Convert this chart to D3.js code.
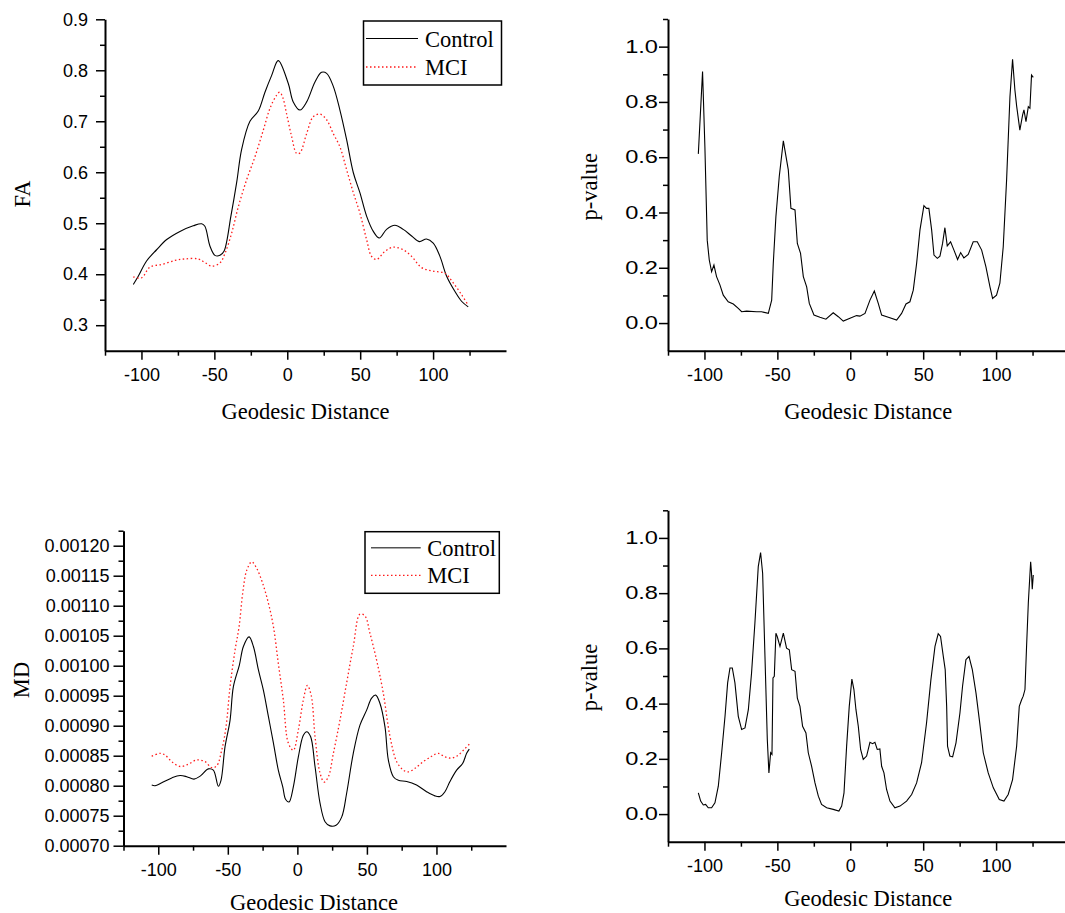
<!DOCTYPE html>
<html><head><meta charset="utf-8">
<script src="https://cdn.jsdelivr.net/npm/d3@7"></script>
<style>body{margin:0;background:#fff} svg{display:block}</style>
</head><body>
<svg id="c" width="1065" height="913"></svg>
<script>
// ---------------- DATA ----------------
const seriesNames = ["Control", "MCI"];
const xTitle = "Geodesic Distance";
const xMajorTicks = [-100, -50, 0, 50, 100];
const xMinorTicks = [-125, -75, -25, 25, 75, 125];
const faMajorTicks = [0.3, 0.4, 0.5, 0.6, 0.7, 0.8, 0.9];
const faMinorTicks = [0.35, 0.45, 0.55, 0.65, 0.75, 0.85];
const pMajorTicks = [0.0, 0.2, 0.4, 0.6, 0.8, 1.0];
const pMinorTicks = [0.1, 0.3, 0.5, 0.7, 0.9, 1.1];
const mdMajorTicks = [0.00070, 0.00075, 0.00080, 0.00085, 0.00090, 0.00095, 0.00100, 0.00105, 0.00110, 0.00115, 0.00120];
const mdMinorTicks = [0.000725, 0.000775, 0.000825, 0.000875, 0.000925, 0.000975, 0.001025, 0.001075, 0.001125, 0.001175, 0.001225];

const faControl = [[-105.6,0.380],[-102.2,0.396],[-96.5,0.426],[-89.6,0.448],[-82.7,0.468],[-73.6,0.484],[-64.5,0.495],[-58.7,0.499],[-56.5,0.494],[-53.0,0.455],[-49.6,0.437],[-46.2,0.437],[-43.4,0.445],[-38.6,0.515],[-34.7,0.580],[-31.3,0.645],[-25.6,0.700],[-19.9,0.720],[-15.3,0.757],[-10.7,0.790],[-6.2,0.819],[0.7,0.774],[4.1,0.738],[8.7,0.722],[13.3,0.738],[19.0,0.777],[23.5,0.796],[27.0,0.794],[31.5,0.769],[36.1,0.722],[40.7,0.664],[45.3,0.599],[49.8,0.560],[54.4,0.514],[59.0,0.484],[63.1,0.471],[68.1,0.488],[73.8,0.496],[79.5,0.488],[85.3,0.475],[90.5,0.464],[95.5,0.469],[100.1,0.461],[104.7,0.435],[109.3,0.396],[115.0,0.366],[119.5,0.347],[124.1,0.336]];
const faMCI = [[-105.6,0.395],[-99.9,0.393],[-94.2,0.414],[-86.2,0.419],[-77.0,0.427],[-70.2,0.430],[-61.0,0.430],[-56.5,0.423],[-51.9,0.416],[-46.2,0.422],[-42.7,0.441],[-38.2,0.480],[-33.6,0.532],[-27.9,0.585],[-22.2,0.630],[-16.5,0.682],[-11.9,0.725],[-7.6,0.750],[-5.2,0.757],[-3.0,0.746],[-0.5,0.715],[3.0,0.670],[6.4,0.637],[8.7,0.638],[13.3,0.676],[17.8,0.709],[22.4,0.714],[27.0,0.703],[31.5,0.676],[36.1,0.650],[40.7,0.605],[45.3,0.560],[49.8,0.520],[54.4,0.468],[57.8,0.435],[61.3,0.429],[67.0,0.445],[72.7,0.453],[79.5,0.448],[85.3,0.435],[92.1,0.413],[100.1,0.406],[108.0,0.402],[113.8,0.383],[119.5,0.360],[124.1,0.339]];

const faPValue = [[-104.2,0.612],[-101.3,0.910],[-99.7,0.638],[-98.1,0.300],[-96.7,0.228],[-95.1,0.186],[-93.5,0.210],[-91.7,0.168],[-89.4,0.138],[-87.1,0.101],[-83.7,0.077],[-80.2,0.069],[-76.8,0.053],[-74.5,0.041],[-71.1,0.043],[-64.2,0.041],[-60.8,0.041],[-56.2,0.035],[-53.9,0.083],[-52.8,0.216],[-51.0,0.385],[-48.7,0.530],[-45.9,0.659],[-42.5,0.554],[-40.7,0.415],[-37.9,0.409],[-36.3,0.288],[-34.1,0.252],[-32.2,0.168],[-29.9,0.131],[-28.1,0.071],[-24.9,0.029],[-20.8,0.021],[-16.7,0.014],[-11.7,0.037],[-8.2,0.023],[-4.8,0.007],[-0.2,0.017],[4.3,0.027],[6.6,0.025],[10.1,0.035],[13.5,0.083],[16.5,0.116],[19.2,0.071],[21.5,0.029],[26.1,0.021],[31.8,0.011],[35.2,0.035],[38.2,0.069],[40.9,0.077],[43.2,0.119],[45.5,0.216],[47.8,0.337],[50.5,0.425],[52.3,0.415],[53.9,0.415],[55.8,0.337],[57.4,0.246],[59.7,0.234],[61.5,0.242],[63.3,0.288],[64.9,0.345],[66.5,0.279],[68.8,0.294],[71.1,0.264],[73.6,0.230],[75.7,0.255],[77.9,0.236],[80.9,0.248],[84.3,0.294],[87.1,0.294],[90.1,0.264],[93.0,0.204],[95.8,0.131],[97.6,0.089],[100.3,0.101],[102.6,0.144],[104.9,0.276],[107.2,0.517],[109.5,0.819],[111.3,0.954],[112.9,0.843],[114.1,0.785],[116.3,0.698],[118.2,0.753],[119.1,0.771],[120.5,0.729],[122.1,0.783],[123.2,0.777],[124.3,0.897],[125.5,0.889]];

const mdControl = [[-104.7,0.000801],[-102.3,0.000800],[-97.5,0.000805],[-90.3,0.000813],[-84.3,0.000817],[-79.5,0.000815],[-74.3,0.000811],[-69.9,0.000816],[-64.0,0.000828],[-60.4,0.000826],[-56.8,0.000799],[-54.9,0.000809],[-52.0,0.000865],[-48.4,0.000909],[-46.0,0.000965],[-41.7,0.001001],[-38.8,0.001032],[-34.7,0.001048],[-31.6,0.001032],[-28.0,0.000993],[-24.4,0.000959],[-20.8,0.000915],[-17.2,0.000871],[-13.7,0.000826],[-10.5,0.000798],[-8.4,0.000777],[-6.0,0.000773],[-2.9,0.000798],[0.7,0.000848],[4.3,0.000884],[6.7,0.000890],[9.5,0.000882],[12.7,0.000832],[16.3,0.000771],[19.9,0.000740],[23.5,0.000733],[27.8,0.000734],[31.9,0.000748],[35.4,0.000787],[40.2,0.000854],[45.0,0.000901],[49.8,0.000926],[53.4,0.000946],[56.3,0.000951],[59.4,0.000937],[63.0,0.000898],[65.4,0.000843],[69.0,0.000815],[72.6,0.000809],[78.6,0.000807],[85.7,0.000801],[92.9,0.000790],[98.9,0.000783],[102.5,0.000782],[106.1,0.000790],[109.7,0.000807],[114.5,0.000826],[118.8,0.000837],[121.7,0.000854],[123.6,0.000861]];
const mdMCI = [[-104.7,0.000849],[-98.7,0.000854],[-95.1,0.000851],[-90.3,0.000840],[-84.3,0.000832],[-78.3,0.000836],[-72.3,0.000843],[-66.3,0.000840],[-61.6,0.000830],[-58.0,0.000833],[-54.4,0.000859],[-51.3,0.000898],[-48.4,0.000965],[-44.8,0.001026],[-41.9,0.001065],[-39.3,0.001121],[-36.4,0.001159],[-32.8,0.001173],[-29.2,0.001162],[-24.9,0.001137],[-20.8,0.001104],[-17.2,0.001065],[-13.7,0.001004],[-10.1,0.000943],[-6.5,0.000871],[-2.9,0.000859],[0.7,0.000893],[4.3,0.000943],[7.2,0.000967],[10.0,0.000950],[12.7,0.000882],[16.3,0.000821],[19.2,0.000806],[22.3,0.000815],[25.9,0.000854],[30.7,0.000910],[35.4,0.000971],[40.2,0.001032],[45.0,0.001086],[48.6,0.001083],[52.2,0.001054],[57.0,0.001009],[61.8,0.000954],[66.6,0.000882],[71.4,0.000840],[76.2,0.000826],[79.8,0.000823],[84.6,0.000829],[90.5,0.000840],[96.5,0.000849],[101.3,0.000854],[106.1,0.000848],[110.9,0.000846],[115.7,0.000851],[120.5,0.000862],[123.6,0.000869]];

const mdPValue = [[-104.2,0.077],[-102.6,0.047],[-100.8,0.033],[-99.2,0.035],[-97.4,0.023],[-95.1,0.023],[-92.8,0.041],[-90.5,0.101],[-88.2,0.222],[-85.9,0.354],[-84.1,0.475],[-82.5,0.529],[-80.9,0.529],[-79.1,0.475],[-76.8,0.354],[-74.5,0.306],[-72.2,0.312],[-69.9,0.378],[-67.7,0.511],[-65.4,0.692],[-63.1,0.896],[-61.5,0.947],[-60.1,0.872],[-58.5,0.571],[-56.9,0.270],[-55.8,0.149],[-54.6,0.222],[-53.7,0.216],[-53.0,0.493],[-52.1,0.499],[-51.0,0.655],[-50.1,0.643],[-48.2,0.607],[-45.9,0.655],[-43.7,0.601],[-41.8,0.595],[-40.2,0.523],[-37.9,0.517],[-36.3,0.420],[-34.5,0.390],[-32.7,0.318],[-30.4,0.294],[-28.8,0.222],[-26.5,0.173],[-24.2,0.113],[-21.9,0.065],[-19.7,0.035],[-16.2,0.023],[-11.7,0.017],[-7.8,0.011],[-5.9,0.029],[-4.3,0.077],[-2.5,0.246],[-0.7,0.390],[1.1,0.489],[2.5,0.451],[3.9,0.378],[5.5,0.318],[7.1,0.234],[8.9,0.198],[11.2,0.210],[13.5,0.260],[15.3,0.255],[16.9,0.260],[18.5,0.234],[20.3,0.236],[21.5,0.173],[23.1,0.149],[24.9,0.089],[27.2,0.047],[30.6,0.023],[34.1,0.029],[38.6,0.047],[42.1,0.071],[45.5,0.113],[48.9,0.186],[52.3,0.330],[55.3,0.487],[58.1,0.607],[60.3,0.653],[61.9,0.643],[63.8,0.571],[65.1,0.523],[66.1,0.390],[66.7,0.246],[68.3,0.210],[70.2,0.207],[72.5,0.258],[75.2,0.366],[77.0,0.463],[79.3,0.559],[81.4,0.571],[83.7,0.523],[86.2,0.439],[88.5,0.342],[91.2,0.222],[94.6,0.149],[98.1,0.095],[102.2,0.053],[105.4,0.047],[108.3,0.071],[111.3,0.125],[114.1,0.246],[115.9,0.390],[117.5,0.414],[118.6,0.427],[119.8,0.451],[120.9,0.607],[122.1,0.764],[123.7,0.914],[124.3,0.872],[124.8,0.814],[125.5,0.866]];

// ---------------- DRAWING ----------------
const svg = d3.select("#c");
const SANS = "'Liberation Sans', Arial, Helvetica, sans-serif";
const SERIF = "'Liberation Serif', 'Times New Roman', Times, serif";

function panel(cfg) {
  const x = d3.scaleLinear().domain([-125, 150]).range(cfg.xRange);
  const y = d3.scaleLinear().domain(cfg.yDomain).range(cfg.yRange);
  const g = svg.append("g");

  // x axis
  g.append("g").attr("class", "xa").attr("transform", `translate(0,${cfg.yRange[0]})`)
    .call(d3.axisBottom(x).tickValues(xMajorTicks).tickSize(9).tickSizeOuter(0).tickPadding(9).tickFormat(d => String(d)));
  const xm = g.append("g").attr("transform", `translate(0,${cfg.yRange[0]})`)
    .call(d3.axisBottom(x).tickValues(xMinorTicks).tickSize(5).tickFormat(""));
  xm.select(".domain").remove();

  // y axis
  const ya = g.append("g").attr("class", "ya").attr("transform", `translate(${cfg.xRange[0]},0)`)
    .call(d3.axisLeft(y).tickValues(cfg.yMajor).tickSize(cfg.tickLen).tickSizeOuter(0).tickPadding(cfg.yPad).tickFormat(d => d.toFixed(cfg.dec)));
  const ym = g.append("g").attr("transform", `translate(${cfg.xRange[0]},0)`)
    .call(d3.axisLeft(y).tickValues(cfg.yMinor).tickSize(5).tickFormat(""));
  ym.select(".domain").remove();

  g.selectAll(".domain").attr("stroke", "#000").attr("stroke-width", 2);
  g.selectAll(".tick line").attr("stroke", "#000").attr("stroke-width", 1.5);
  g.selectAll(".tick text").attr("font-family", SANS).attr("font-size", 18).attr("fill", "#000");
  if (cfg.yStretch) {
    const off = cfg.tickLen + cfg.yPad;
    ya.selectAll(".tick text")
      .attr("font-size", 17.5)
      .attr("x", -off / cfg.yStretch)
      .attr("transform", `scale(${cfg.yStretch},1)`);
  }

  // titles
  g.append("text").attr("x", cfg.xTitlePos[0]).attr("y", cfg.xTitlePos[1])
    .attr("text-anchor", "middle").attr("font-family", SERIF).attr("font-size", 22.5).text(xTitle);
  g.append("text").attr("transform", `translate(${cfg.yTitlePos[0]},${cfg.yTitlePos[1]}) rotate(-90)`)
    .attr("text-anchor", "middle").attr("font-family", SERIF).attr("font-size", 22.5).text(cfg.yTitle);

  // series
  cfg.series.forEach(s => {
    g.append("path").datum(s.data)
      .attr("fill", "none").attr("stroke", s.color).attr("stroke-width", s.width)
      .attr("stroke-dasharray", s.dash || null)
      .attr("d", d3.line().x(d => x(d[0])).y(d => y(d[1])).curve(s.curve));
  });

  // legend
  if (cfg.legend) {
    const L = cfg.legend;
    g.append("rect").attr("x", L.box[0]).attr("y", L.box[1]).attr("width", L.box[2]).attr("height", L.box[3])
      .attr("fill", "#fff").attr("stroke", "#000").attr("stroke-width", 1.5);
    cfg.series.forEach((s, i) => {
      const ly = L.rowY[i];
      g.append("line").attr("x1", L.lineX[0]).attr("x2", L.lineX[1]).attr("y1", ly).attr("y2", ly)
        .attr("stroke", i === 0 ? L.ctrlColor : s.color).attr("stroke-width", i === 0 ? L.ctrlWidth : s.width)
        .attr("stroke-dasharray", s.dash || null);
      g.append("text").attr("x", L.textX).attr("y", ly + 8).attr("font-family", SERIF).attr("font-size", 22.5)
        .text(seriesNames[i]);
    });
  }
}

const smooth = d3.curveCatmullRom.alpha(0.5);

panel({
  xRange: [105, 506], yDomain: [0.25, 0.9], yRange: [350.7, 19.3],
  yMajor: faMajorTicks, yMinor: faMinorTicks, dec: 1, tickLen: 9, yPad: 8,
  xTitlePos: [305.5, 418.5], yTitlePos: [30, 194], yTitle: "FA",
  series: [
    {data: faControl, color: "#000", width: 1.1, curve: smooth},
    {data: faMCI, color: "#ff1a1a", width: 1.3, dash: "1.5,2.5", curve: smooth}
  ],
  legend: {box: [363.5, 21, 138, 64], lineX: [366, 418], rowY: [38.5, 67], textX: 425, ctrlColor: "#000", ctrlWidth: 1.1}
});

panel({
  xRange: [668, 1069], yDomain: [-0.1, 1.1], yRange: [350.7, 19],
  yMajor: pMajorTicks, yMinor: pMinorTicks, dec: 1, tickLen: 9, yPad: 1, yStretch: 1.35,
  xTitlePos: [868.3, 418.5], yTitlePos: [596.7, 186.7], yTitle: "p-value",
  series: [{data: faPValue, color: "#000", width: 1.1, curve: d3.curveLinear}]
});

panel({
  xRange: [123.5, 506], yDomain: [0.0007, 0.001225], yRange: [845.7, 530.7],
  yMajor: mdMajorTicks, yMinor: mdMinorTicks, dec: 5, tickLen: 10, yPad: 4,
  xTitlePos: [314, 909.5], yTitlePos: [28.5, 680], yTitle: "MD",
  series: [
    {data: mdControl, color: "#000", width: 1.1, curve: smooth},
    {data: mdMCI, color: "#ff1a1a", width: 1.3, dash: "1.5,2.5", curve: smooth}
  ],
  legend: {box: [365, 531.7, 134.3, 61.6], lineX: [371, 420.7], rowY: [547.7, 575.3], textX: 427.3, ctrlColor: "#555", ctrlWidth: 1.6}
});

panel({
  xRange: [668, 1069], yDomain: [-0.1, 1.1], yRange: [841.7, 510.3],
  yMajor: pMajorTicks, yMinor: pMinorTicks, dec: 1, tickLen: 9, yPad: 1, yStretch: 1.35,
  xTitlePos: [868.3, 906], yTitlePos: [596.7, 677.5], yTitle: "p-value",
  series: [{data: mdPValue, color: "#000", width: 1.1, curve: d3.curveLinear}]
});
</script>
</body></html>
